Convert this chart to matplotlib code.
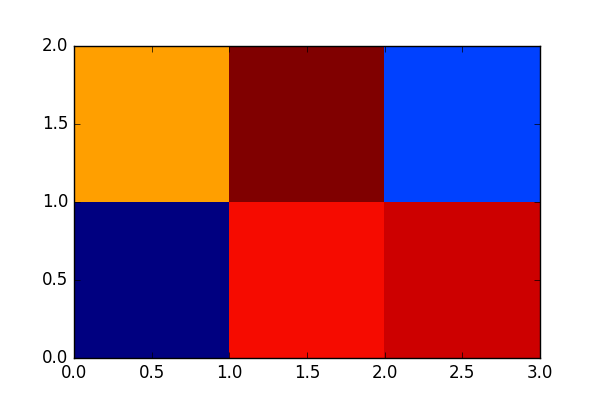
import numpy as np
import matplotlib
matplotlib.use('Agg')
import matplotlib.pyplot as plt

# cell values (normalised)
row_bottom = [0.0, 0.897, 0.933]
row_top = [0.741, 1.0, 0.1875]
x_edges = [0, 1, 2, 3]
y_edges = [0, 1, 2]

plt.style.use('classic')
data = np.array([row_bottom, row_top])

fig = plt.figure(figsize=(6, 4.07), dpi=100, facecolor='white')
ax = fig.add_axes([74/600, 1 - 358/407, 466/600, 312/407])
ax.pcolor(x_edges, y_edges, data, cmap='jet', vmin=0, vmax=1)
ax.set_xlim(0, 3)
ax.set_ylim(0, 2)
ax.set_xticks(np.arange(0, 3.01, 0.5))
ax.set_yticks(np.arange(0, 2.01, 0.5))

fig.savefig('out.png', dpi=100, facecolor='white')
